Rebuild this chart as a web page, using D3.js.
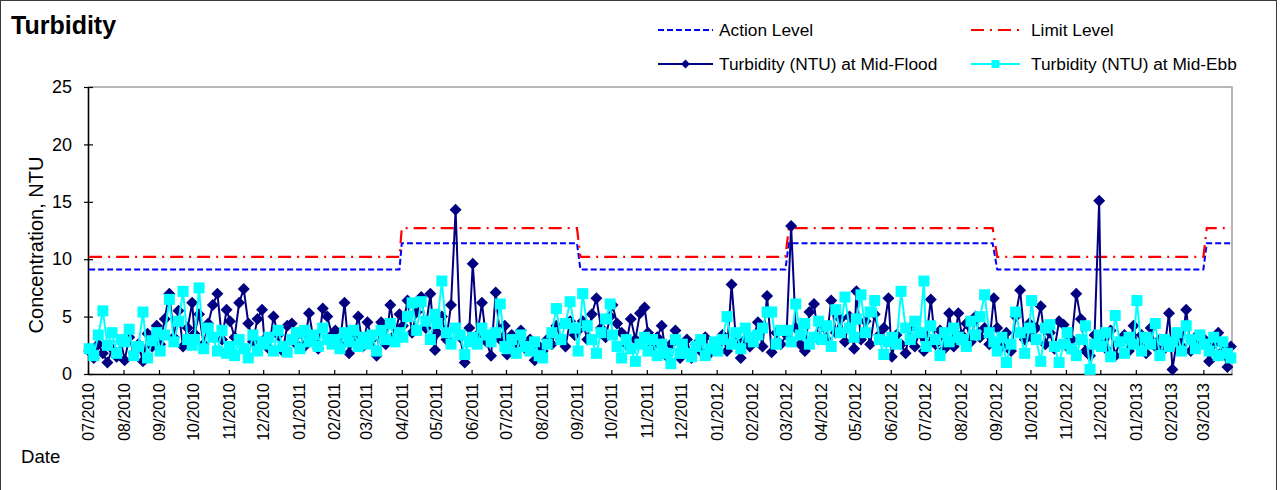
<!DOCTYPE html>
<html>
<head>
<meta charset="utf-8">
<script src="https://cdn.jsdelivr.net/npm/d3@7"></script>
<style>
body { margin: 0; background: #fff; }
svg { display: block; font-family: Arial, "Liberation Sans", sans-serif; }
</style>
</head>
<body>
<div id="chart"></div>
<script>
// sampling dates (shared by both tide series)
var sampleDates = [
"2010-07-02","2010-07-06","2010-07-10","2010-07-14","2010-07-18","2010-07-22","2010-07-26","2010-07-30",
"2010-08-02","2010-08-06","2010-08-10","2010-08-14","2010-08-18","2010-08-22","2010-08-26","2010-08-30",
"2010-09-02","2010-09-06","2010-09-10","2010-09-14","2010-09-18","2010-09-22","2010-09-26","2010-09-30",
"2010-10-02","2010-10-06","2010-10-10","2010-10-14","2010-10-18","2010-10-22","2010-10-26","2010-10-30",
"2010-11-02","2010-11-06","2010-11-10","2010-11-14","2010-11-18","2010-11-22","2010-11-26","2010-11-30",
"2010-12-02","2010-12-06","2010-12-10","2010-12-14","2010-12-18","2010-12-22","2010-12-26","2010-12-30",
"2011-01-02","2011-01-06","2011-01-10","2011-01-14","2011-01-18","2011-01-22","2011-01-26","2011-01-30",
"2011-02-02","2011-02-06","2011-02-10","2011-02-14","2011-02-18","2011-02-22","2011-02-26",
"2011-03-02","2011-03-06","2011-03-10","2011-03-14","2011-03-18","2011-03-22","2011-03-26","2011-03-30",
"2011-04-02","2011-04-06","2011-04-10","2011-04-14","2011-04-18","2011-04-22","2011-04-26","2011-04-30",
"2011-05-02","2011-05-06","2011-05-10","2011-05-14","2011-05-18","2011-05-22","2011-05-26","2011-05-30",
"2011-06-02","2011-06-06","2011-06-10","2011-06-14","2011-06-18","2011-06-22","2011-06-26","2011-06-30",
"2011-07-02","2011-07-06","2011-07-10","2011-07-14","2011-07-18","2011-07-22","2011-07-26","2011-07-30",
"2011-08-02","2011-08-06","2011-08-10","2011-08-14","2011-08-18","2011-08-22","2011-08-26","2011-08-30",
"2011-09-02","2011-09-06","2011-09-10","2011-09-14","2011-09-18","2011-09-22","2011-09-26","2011-09-30",
"2011-10-02","2011-10-06","2011-10-10","2011-10-14","2011-10-18","2011-10-22","2011-10-26","2011-10-30",
"2011-11-02","2011-11-06","2011-11-10","2011-11-14","2011-11-18","2011-11-22","2011-11-26","2011-11-30",
"2011-12-02","2011-12-06","2011-12-10","2011-12-14","2011-12-18","2011-12-22","2011-12-26","2011-12-30",
"2012-01-02","2012-01-06","2012-01-10","2012-01-14","2012-01-18","2012-01-22","2012-01-26","2012-01-30",
"2012-02-02","2012-02-06","2012-02-10","2012-02-14","2012-02-18","2012-02-22","2012-02-26",
"2012-03-02","2012-03-06","2012-03-10","2012-03-14","2012-03-18","2012-03-22","2012-03-26","2012-03-30",
"2012-04-02","2012-04-06","2012-04-10","2012-04-14","2012-04-18","2012-04-22","2012-04-26","2012-04-30",
"2012-05-02","2012-05-06","2012-05-10","2012-05-14","2012-05-18","2012-05-22","2012-05-26","2012-05-30",
"2012-06-02","2012-06-06","2012-06-10","2012-06-14","2012-06-18","2012-06-22","2012-06-26","2012-06-30",
"2012-07-02","2012-07-06","2012-07-10","2012-07-14","2012-07-18","2012-07-22","2012-07-26","2012-07-30",
"2012-08-02","2012-08-06","2012-08-10","2012-08-14","2012-08-18","2012-08-22","2012-08-26","2012-08-30",
"2012-09-02","2012-09-06","2012-09-10","2012-09-14","2012-09-18","2012-09-22","2012-09-26","2012-09-30",
"2012-10-02","2012-10-06","2012-10-10","2012-10-14","2012-10-18","2012-10-22","2012-10-26","2012-10-30",
"2012-11-02","2012-11-06","2012-11-10","2012-11-14","2012-11-18","2012-11-22","2012-11-26","2012-11-30",
"2012-12-02","2012-12-06","2012-12-10","2012-12-14","2012-12-18","2012-12-22","2012-12-26","2012-12-30",
"2013-01-02","2013-01-06","2013-01-10","2013-01-14","2013-01-18","2013-01-22","2013-01-26","2013-01-30",
"2013-02-02","2013-02-06","2013-02-10","2013-02-14","2013-02-18","2013-02-22","2013-02-26",
"2013-03-02","2013-03-06","2013-03-10","2013-03-14","2013-03-18","2013-03-22","2013-03-25"
];

// Turbidity (NTU) at Mid-Flood
var midFlood = [
2.0, 1.4, 2.6, 1.8, 1.0, 2.2, 1.5, 2.8,
1.2, 3.2, 1.8, 2.6, 1.1, 3.5, 2.4, 4.2,
2.6, 4.8, 7.0, 3.2, 5.5, 2.4, 4.0, 6.2,
3.5, 5.2, 2.6, 4.4, 6.0, 7.0, 3.0, 5.6,
4.6, 3.2, 6.2, 7.4, 4.4, 2.8, 4.8, 5.6,
3.0, 2.2, 5.0, 3.4, 2.0, 4.2, 4.4, 2.6,
3.6, 2.4, 5.3, 3.0, 2.2, 5.7, 5.0, 3.4,
3.8, 2.6, 6.2, 1.8, 3.2, 5.0, 2.4,
4.5, 3.0, 1.6, 4.5, 2.6, 6.0, 3.4, 5.2,
4.2, 6.4, 3.6, 5.4, 6.7, 4.0, 7.0, 2.1,
3.6, 5.0, 3.0, 6.0, 14.3, 3.2, 1.0, 4.0,
9.6, 3.4, 6.2, 2.8, 1.6, 7.1, 3.0, 4.2,
1.7, 3.4, 2.6, 3.8, 2.2, 3.0, 1.2, 2.4,
2.0, 3.0, 2.6, 4.2, 3.0, 2.4, 4.6, 3.4,
3.8, 4.6, 3.0, 5.2, 6.6, 4.0, 3.2, 5.0,
6.0, 4.4, 3.6, 2.6, 4.8, 3.0, 5.3, 5.8,
3.6, 2.4, 3.2, 4.2, 1.6, 2.6, 3.8, 1.4,
2.2, 3.0, 1.4, 2.6, 2.0, 3.2, 1.8, 2.4,
2.6, 3.4, 2.0, 7.8, 2.8, 1.4, 3.0, 2.4,
3.2, 4.5, 2.4, 6.8, 1.9, 3.6, 2.6,
3.4, 12.9, 4.0, 2.6, 2.0, 5.4, 6.1, 3.0,
4.2, 3.0, 6.4, 3.6, 4.8, 2.8, 5.0, 2.2,
7.2, 3.0, 4.6, 2.6, 5.2, 3.4, 4.0, 6.6,
1.5, 3.4, 2.6, 1.8, 4.0, 2.4, 3.6, 2.0,
3.0, 6.5, 2.6, 3.8, 2.2, 5.3, 2.4, 5.3,
3.4, 4.4, 2.8, 5.0, 3.2, 4.0, 2.6, 6.6,
4.0, 2.4, 3.6, 2.0, 5.0, 7.3, 3.0, 4.4,
3.2, 4.0, 5.9, 2.6, 3.6, 2.2, 4.6, 4.3,
2.4, 3.0, 7.0, 4.8, 2.0, 1.6, 3.4, 15.1,
3.0, 2.2, 3.8, 1.6, 2.8, 3.4, 2.0, 4.2,
2.6, 3.4, 1.8, 4.0, 2.4, 3.0, 2.2, 5.3,
0.4, 3.0, 2.4, 5.6, 2.0, 3.2, 2.6,
3.0, 1.1, 2.6, 3.6, 2.0, 0.6, 2.4
];

// Turbidity (NTU) at Mid-Ebb
var midEbb = [
2.2, 1.6, 3.4, 5.5, 2.5, 3.6, 1.8, 3.0,
2.8, 3.9, 1.6, 2.4, 5.4, 1.4, 2.9, 3.6,
2.0, 3.4, 6.5, 2.8, 4.6, 7.2, 3.0, 2.5,
3.0, 7.5, 2.2, 4.0, 3.2, 2.0, 3.8, 1.8,
2.4, 1.6, 3.0, 2.2, 1.4, 3.4, 2.0, 2.8,
2.6, 3.2, 2.0, 3.8, 2.4, 1.9, 3.0, 3.6,
2.2, 3.8, 2.8, 3.4, 2.4, 4.0, 3.0, 2.6,
3.0, 2.2, 3.6, 2.8, 3.8, 2.4, 3.2,
2.6, 3.4, 2.0, 3.8, 3.0, 4.4, 2.8, 3.6,
3.2, 5.0, 6.2, 3.8, 6.3, 4.6, 3.0, 5.2,
4.4, 8.1, 3.6, 2.6, 4.0, 3.4, 1.7, 2.8,
3.2, 2.6, 4.0, 3.4, 2.8, 3.6, 6.1, 2.4,
2.2, 3.0, 1.8, 3.4, 2.4, 2.0, 2.8, 1.6,
1.4, 2.6, 3.6, 5.7, 3.0, 4.4, 6.3, 4.0,
2.0, 7.0, 4.2, 3.0, 1.8, 3.6, 4.8, 6.1,
3.4, 2.4, 1.4, 3.0, 2.2, 1.1, 2.6, 3.2,
2.0, 3.0, 1.6, 2.6, 1.8, 0.9, 3.0, 1.8,
2.6, 1.8, 1.5, 2.4, 3.0, 1.6, 2.2, 2.8,
2.0, 3.0, 5.0, 2.6, 3.6, 2.2, 4.0, 3.2,
2.8, 3.4, 4.0, 5.4, 5.4, 2.6, 3.8,
3.8, 2.8, 6.1, 3.4, 4.4, 2.6, 3.2, 4.6,
3.0, 4.2, 2.4, 5.6, 3.6, 6.7, 4.0, 3.2,
4.8, 6.9, 3.6, 5.4, 6.4, 3.0, 1.7, 2.8,
3.2, 2.6, 7.2, 4.0, 3.0, 4.6, 3.6, 8.1,
2.4, 4.2, 3.0, 1.6, 3.6, 2.8, 4.0, 3.2,
3.0, 2.4, 4.6, 3.4, 5.0, 6.9, 3.6, 2.8,
2.0, 3.2, 1.0, 2.6, 5.4, 3.6, 1.8, 4.0,
6.4, 3.0, 1.1, 4.0, 4.3, 2.4, 1.0, 2.6,
3.6, 2.2, 1.6, 3.0, 4.2, 0.4, 2.6, 3.4,
2.4, 3.6, 1.5, 5.1, 2.8, 1.8, 3.2, 2.6,
6.4, 2.0, 3.2, 2.6, 4.4, 1.6, 3.0, 2.4,
2.8, 3.6, 2.0, 4.2, 3.0, 2.2, 3.4,
2.6, 2.0, 3.2, 1.6, 2.8, 1.8, 1.4
];

// action / limit levels (change points)
var levelDates = ["2010-07-02","2011-03-30","2011-04-01","2011-09-01","2011-09-04","2012-03-01",
                  "2012-03-04","2012-08-29","2012-09-02","2013-03-01","2013-03-04","2013-03-25"];
var actionLevel = [9.1, 9.1, 11.4, 11.4, 9.1, 9.1, 11.4, 11.4, 9.1, 9.1, 11.4, 11.4];
var limitLevel = [10.2, 10.2, 12.7, 12.7, 10.2, 10.2, 12.7, 12.7, 10.2, 10.2, 12.7, 12.7];

var yTicks = [0, 5, 10, 15, 20, 25];
var monthTicks = ["07/2010","08/2010","09/2010","10/2010","11/2010","12/2010","01/2011","02/2011",
  "03/2011","04/2011","05/2011","06/2011","07/2011","08/2011","09/2011","10/2011","11/2011",
  "12/2011","01/2012","02/2012","03/2012","04/2012","05/2012","06/2012","07/2012","08/2012",
  "09/2012","10/2012","11/2012","12/2012","01/2013","02/2013","03/2013"];

//chart area
var svgWidth = 1282;
var svgHeight = 490;
var plot = { left: 88, top: 87, right: 1232, bottom: 374 };

var parseDay = d3.timeParse("%Y-%m-%d");
var parseMonth = d3.timeParse("%m/%Y");

var svg = d3.select("#chart")
    .append("svg")
    .attr("width", svgWidth)
    .attr("height", svgHeight);

// outer frame
svg.append("rect")
    .attr("x", 0.5).attr("y", 0.5)
    .attr("width", 1276).attr("height", svgHeight + 10)
    .attr("fill", "white")
    .attr("stroke", "#3a3a3a");

var xScale = d3.scaleTime()
    .domain([parseDay("2010-07-01"), parseDay("2013-03-26")])
    .range([plot.left, plot.right]);

var yScale = d3.scaleLinear()
    .domain([0, 25])
    .range([plot.bottom, plot.top]);

// plot frame (top + right)
svg.append("path")
    .attr("d", `M${plot.left},${plot.top}H${plot.right}V${plot.bottom}`)
    .attr("fill", "none")
    .attr("stroke", "#a0a0a0")
    .attr("stroke-width", 1.5);

//axes
var leftAxis = d3.axisLeft(yScale)
    .tickValues(yTicks)
    .tickSizeInner(4)
    .tickSizeOuter(0)
    .tickPadding(12);

var yAxisG = svg.append("g")
    .attr("transform", `translate(${plot.left},0)`)
    .call(leftAxis);
yAxisG.selectAll(".tick line").attr("x1", 5);
yAxisG.selectAll("text").style("font-size", "18px").attr("fill", "#000");

var bottomAxis = d3.axisBottom(xScale)
    .tickValues(monthTicks.map(parseMonth))
    .tickFormat(d3.timeFormat("%m/%Y"))
    .tickSizeInner(-4)
    .tickSizeOuter(0);

var xAxisG = svg.append("g")
    .attr("transform", `translate(0,${plot.bottom})`)
    .call(bottomAxis);
xAxisG.selectAll("text")
    .attr("transform", "rotate(-90)")
    .attr("x", -9)
    .attr("y", 0)
    .attr("dy", "0.35em")
    .style("text-anchor", "end")
    .style("font-size", "16px")
    .attr("fill", "#000");

svg.selectAll(".domain").attr("stroke", "#000").attr("stroke-width", 1.6);
svg.selectAll(".tick line").attr("stroke", "#000").attr("stroke-width", 1.2);

//level lines
var levelLine = d3.line()
    .x((d, i) => xScale(parseDay(levelDates[i])))
    .y(d => yScale(d));

svg.append("path")
    .datum(actionLevel)
    .attr("d", levelLine)
    .attr("fill", "none")
    .attr("stroke", "#0000ff")
    .attr("stroke-width", 2)
    .attr("stroke-dasharray", "6,3");

svg.append("path")
    .datum(limitLevel)
    .attr("d", levelLine)
    .attr("fill", "none")
    .attr("stroke", "#ff0000")
    .attr("stroke-width", 2.2)
    .attr("stroke-dasharray", "13,6,2,6");

//series
var seriesLine = d3.line()
    .x((d, i) => xScale(parseDay(sampleDates[i])))
    .y(d => yScale(d));

var diamond = "M0,-6L6,0L0,6L-6,0Z";

svg.append("path")
    .datum(midFlood)
    .attr("d", seriesLine)
    .attr("fill", "none")
    .attr("stroke", "#000080")
    .attr("stroke-width", 2);

svg.append("g").selectAll("path")
    .data(midFlood)
    .enter()
    .append("path")
    .attr("d", diamond)
    .attr("transform", (d, i) => `translate(${xScale(parseDay(sampleDates[i]))},${yScale(d)})`)
    .attr("fill", "#000080");

svg.append("path")
    .datum(midEbb)
    .attr("d", seriesLine)
    .attr("fill", "none")
    .attr("stroke", "#00ffff")
    .attr("stroke-width", 2);

svg.append("g").selectAll("rect")
    .data(midEbb)
    .enter()
    .append("rect")
    .attr("x", (d, i) => xScale(parseDay(sampleDates[i])) - 5.5)
    .attr("y", d => yScale(d) - 5.5)
    .attr("width", 11)
    .attr("height", 11)
    .attr("fill", "#00ffff");

//legend
var legend = svg.append("g").style("font-size", "17.3px");

legend.append("line")
    .attr("x1", 658).attr("x2", 713).attr("y1", 30).attr("y2", 30)
    .attr("stroke", "#0000ff").attr("stroke-width", 2).attr("stroke-dasharray", "6,3");
legend.append("text").attr("x", 719).attr("y", 30).attr("dy", "0.35em").text("Action Level");

legend.append("line")
    .attr("x1", 971).attr("x2", 1020).attr("y1", 30).attr("y2", 30)
    .attr("stroke", "#ff0000").attr("stroke-width", 2.2).attr("stroke-dasharray", "13,6,2,6");
legend.append("text").attr("x", 1031).attr("y", 30).attr("dy", "0.35em").text("Limit Level");

legend.append("line")
    .attr("x1", 658).attr("x2", 713).attr("y1", 64).attr("y2", 64)
    .attr("stroke", "#000080").attr("stroke-width", 2);
legend.append("path")
    .attr("d", "M0,-4.5L4.5,0L0,4.5L-4.5,0Z")
    .attr("transform", "translate(685.5,64)")
    .attr("fill", "#000080");
legend.append("text").attr("x", 719).attr("y", 64).attr("dy", "0.35em").text("Turbidity (NTU) at Mid-Flood");

legend.append("line")
    .attr("x1", 971).attr("x2", 1020).attr("y1", 64).attr("y2", 64)
    .attr("stroke", "#00ffff").attr("stroke-width", 2);
legend.append("rect")
    .attr("x", 991.5).attr("y", 60).attr("width", 8).attr("height", 8)
    .attr("fill", "#00ffff");
legend.append("text").attr("x", 1031).attr("y", 64).attr("dy", "0.35em").text("Turbidity (NTU) at Mid-Ebb");

//titles
svg.append("text")
    .attr("x", 11)
    .attr("y", 34)
    .style("font-size", "25px")
    .style("font-weight", "bold")
    .text("Turbidity");

svg.append("text")
    .attr("transform", "translate(43,245) rotate(-90)")
    .style("text-anchor", "middle")
    .style("font-size", "20px")
    .text("Concentration, NTU");

svg.append("text")
    .attr("x", 21)
    .attr("y", 463)
    .style("font-size", "18.6px")
    .text("Date");
</script>
</body>
</html>
